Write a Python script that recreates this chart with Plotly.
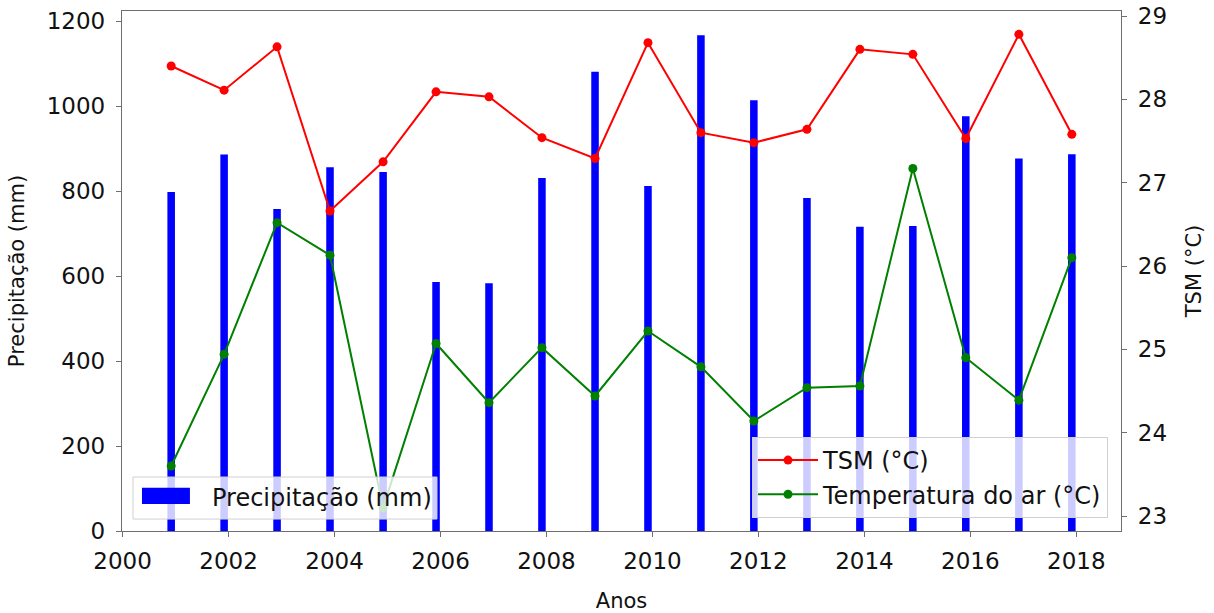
import plotly.graph_objects as go

# Annual series (one value per year, stamped on 1 December)
datas = [
    "2000-12-01", "2001-12-01", "2002-12-01", "2003-12-01", "2004-12-01",
    "2005-12-01", "2006-12-01", "2007-12-01", "2008-12-01", "2009-12-01",
    "2010-12-01", "2011-12-01", "2012-12-01", "2013-12-01", "2014-12-01",
    "2015-12-01", "2016-12-01", "2017-12-01",
]
precipitacao = [798, 886, 758, 856, 845, 586, 583, 831, 1081,
                812, 1167, 1014, 784, 716, 718, 976, 877, 887]
tsm = [28.40, 28.11, 28.63, 26.66, 27.25, 28.09, 28.03, 27.54, 27.29,
       28.68, 27.60, 27.48, 27.64, 28.60, 28.54, 27.53, 28.78, 27.58]
temp_ar = [23.60, 24.94, 26.52, 26.13, 23.10, 25.07, 24.36, 25.02, 24.44,
           25.22, 24.79, 24.14, 24.54, 24.56, 27.17, 24.90, 24.39, 26.10]

FONT = "DejaVu Sans"
BAR_WIDTH_MS = 52 * 24 * 3600 * 1000  # bar width of about 52 days
LEG_FONT = 24

fig = go.Figure()

fig.add_trace(go.Bar(
    x=datas, y=precipitacao, width=BAR_WIDTH_MS,
    marker=dict(color="#0000ff", line=dict(width=0)),
    name="Precipitação (mm)", showlegend=False, yaxis="y",
))

fig.add_trace(go.Scatter(
    x=datas, y=tsm, mode="lines+markers",
    line=dict(color="#ff0000", width=2),
    marker=dict(color="#ff0000", size=9),
    name="TSM (°C)", legend="legend", legendgroup="a", yaxis="y2",
))
fig.add_trace(go.Scatter(
    x=datas, y=temp_ar, mode="lines+markers",
    line=dict(color="#008000", width=2),
    marker=dict(color="#008000", size=9),
    name="Temperatura do ar (°C)", legend="legend", legendgroup="b", yaxis="y2",
))

axis_line = dict(showline=True, linecolor="#6e6e6e", linewidth=1.3,
                 ticks="outside", ticklen=5, tickwidth=1.2, tickcolor="#6e6e6e",
                 showgrid=False, zeroline=False, automargin=False,
                 tickfont=dict(family=FONT, size=23, color="#111111"))

# Legend box for the precipitation bars (wide rectangular swatch)
shapes = [
    dict(type="rect", xref="paper", yref="paper", layer="above",
         x0=0.011, x1=0.3153, y0=0.023, y1=0.1038,
         fillcolor="rgba(255,255,255,0.8)", line=dict(color="#d0d0d0", width=1)),
    dict(type="rect", xref="paper", yref="paper", layer="above",
         x0=0.020, x1=0.068, y0=0.052, y1=0.083,
         fillcolor="#0000ff", line=dict(width=0)),
]
annotations = [
    dict(text="Precipitação (mm)", xref="paper", yref="paper",
         x=0.0881, y=0.064, xanchor="left", yanchor="middle", showarrow=False,
         font=dict(family=FONT, size=LEG_FONT, color="#111111")),
]

fig.update_layout(
    width=1214, height=613,
    margin=dict(l=122, r=93, t=11, b=82),
    paper_bgcolor="white", plot_bgcolor="white",
    font=dict(family=FONT, color="#111111"),
    barmode="overlay",
    shapes=shapes, annotations=annotations,
    xaxis=dict(
        type="date", range=["1999-12-28", "2018-11-05"],
        tick0="2000-01-01", dtick="M24", tickformat="%Y",
        mirror=True, ticklabelstandoff=4,
        title=dict(text="Anos", font=dict(family=FONT, size=21), standoff=26),
        **axis_line,
    ),
    yaxis=dict(
        range=[0, 1224], dtick=200, ticklabelstandoff=6,
        title=dict(text="Precipitação (mm)", font=dict(family=FONT, size=21), standoff=16),
        **axis_line,
    ),
    yaxis2=dict(
        overlaying="y", side="right", range=[22.82, 29.06], dtick=1,
        ticklabelstandoff=6,
        title=dict(text="TSM (°C)", font=dict(family=FONT, size=21), standoff=20),
        **axis_line,
    ),
    legend=dict(
        x=0.987, y=0.025, xanchor="right", yanchor="bottom",
        bgcolor="rgba(255,255,255,0.8)", bordercolor="#d0d0d0", borderwidth=1,
        font=dict(family=FONT, size=LEG_FONT, color="#111111"),
        traceorder="grouped", tracegroupgap=0, itemwidth=60,
    ),
)

fig.write_html("out.html")
